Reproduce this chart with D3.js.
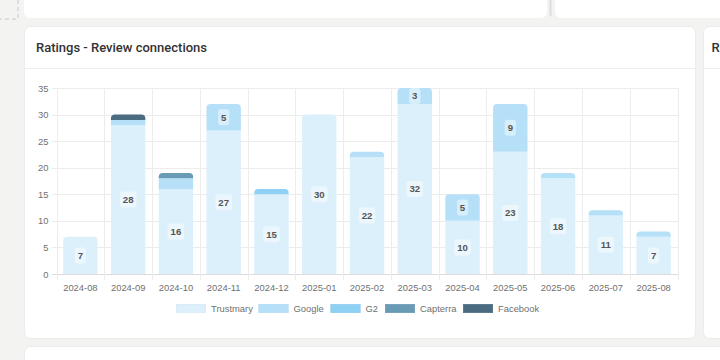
<!DOCTYPE html>
<html><head><meta charset="utf-8">
<script src="https://cdn.jsdelivr.net/npm/d3@7"></script>
<style>
html,body{margin:0;padding:0;background:#f3f3f2;width:720px;height:360px;overflow:hidden;font-family:"Liberation Sans",Arial,sans-serif;}
</style></head>
<body>
<svg id="c" width="720" height="360"></svg>
<script>
const categories = ["2024-08","2024-09","2024-10","2024-11","2024-12","2025-01","2025-02","2025-03","2025-04","2025-05","2025-06","2025-07","2025-08"];
const seriesNames = ["Trustmary","Google","G2","Capterra","Facebook"];
const trustmary = [7,28,16,27,15,30,22,32,10,23,18,11,7];
const google    = [0,1,2,5,0,0,1,3,5,9,1,1,1];
const g2        = [0,0,0,0,1,0,0,0,0,0,0,0,0];
const capterra  = [0,0,1,0,0,0,0,0,0,0,0,0,0];
const facebook  = [0,1,0,0,0,0,0,0,0,0,0,0,0];
const yTicks = [0,5,10,15,20,25,30,35];
const colors = ["#dcf0fb","#b6e0f8","#8fd1f5","#6a9bb6","#4a6b80"];

const seriesValues = [trustmary, google, g2, capterra, facebook];
const data = categories.map((c,i)=>{const o={cat:c}; seriesNames.forEach((s,j)=>o[s]=seriesValues[j][i]); return o;});
const FS = 9.4;

const svg = d3.select("#c");
// background cards
svg.append("rect").attr("x",24).attr("y",-10).attr("width",523).attr("height",28).attr("rx",6).attr("fill","#fff");
svg.append("rect").attr("x",555).attr("y",-10).attr("width",180).attr("height",28).attr("rx",6).attr("fill","#fff");
svg.append("line").attr("x1",550.5).attr("x2",550.5).attr("y1",0).attr("y2",16).attr("stroke","#ddd").attr("stroke-width",2);
svg.append("path").attr("d","M18,0 V19 H0").attr("fill","none").attr("stroke","#ddd").attr("stroke-width",2).attr("stroke-dasharray","4,3");
svg.append("rect").attr("x",24.5).attr("y",26.5).attr("width",671).attr("height",312).attr("rx",6).attr("fill","#fff").attr("stroke","#ececec");
svg.append("rect").attr("x",703.5).attr("y",26.5).attr("width",40).attr("height",312).attr("rx",6).attr("fill","#fff").attr("stroke","#ececec");
svg.append("rect").attr("x",24.5).attr("y",346.5).attr("width",720).attr("height",30).attr("rx",6).attr("fill","#fff").attr("stroke","#ececec");
svg.append("line").attr("x1",25).attr("x2",695).attr("y1",68.5).attr("y2",68.5).attr("stroke","#efefef");
svg.append("line").attr("x1",704).attr("x2",720).attr("y1",68.5).attr("y2",68.5).attr("stroke","#efefef");
svg.append("text").attr("x",36).attr("y",52).text("Ratings - Review connections")
  .attr("font-family","Roboto, sans-serif").attr("font-weight",500).attr("font-size",13).attr("fill","#333");
svg.append("text").attr("x",711.5).attr("y",52).text("R")
  .attr("font-family","Roboto, sans-serif").attr("font-weight",500).attr("font-size",13).attr("fill","#333");

const x = d3.scaleBand().domain(categories).range([56.5,677.5]).paddingInner(0.28).paddingOuter(0.14);
const xg = d3.scaleBand().domain(categories).range([56.5,677.5]);
const y = d3.scaleLinear().domain([0,35]).range([274,88]);

const g = svg.append("g");
// horizontal grid
g.selectAll(".hg").data(yTicks).join("line").attr("x1",52).attr("x2",678)
 .attr("y1",d=>Math.round(y(d))+0.5).attr("y2",d=>Math.round(y(d))+0.5).attr("stroke",d=>d===0?"#dcdcdc":"#ececec");
// vertical grid
const vb = categories.map(c=>xg(c)).concat([677.5]);
g.selectAll(".vg").data(vb).join("line").attr("x1",d=>Math.round(d)+0.5).attr("x2",d=>Math.round(d)+0.5)
 .attr("y1",88).attr("y2",280).attr("stroke","#ececec");
// y axis labels
const yAxis = d3.axisLeft(y).tickValues(yTicks).tickSize(0).tickPadding(0);
const ya = svg.append("g").attr("transform","translate(48.5,0)").call(yAxis);
ya.select(".domain").remove();
ya.selectAll("text").attr("font-size",FS).attr("fill","#707070").attr("font-family","Liberation Sans, Arial, sans-serif");
// x axis labels
const xAxis = d3.axisBottom(xg).tickSize(0).tickPadding(0);
const xa = svg.append("g").attr("transform","translate(0,284)").call(xAxis);
xa.select(".domain").remove();
xa.selectAll("text").attr("font-size",FS).attr("fill","#707070").attr("font-family","Liberation Sans, Arial, sans-serif");

const stack = d3.stack().keys(seriesNames)(data);
const r = 4;
const topIdx = data.map(d=>{let t=-1; seriesNames.forEach((s,j)=>{if(d[s]>0)t=j;}); return t;});
function segPath(x0,w,y0,y1,round){
  if(!round) return `M${x0},${y0}V${y1}H${x0+w}V${y0}Z`;
  return `M${x0},${y0}V${y1+r}Q${x0},${y1} ${x0+r},${y1}H${x0+w-r}Q${x0+w},${y1} ${x0+w},${y1+r}V${y0}Z`;
}
stack.forEach((layer,j)=>{
  svg.append("g").selectAll("path").data(layer.filter(d=>d[1]>d[0])).join("path")
   .attr("fill",colors[j])
   .attr("d",d=>{const i=categories.indexOf(d.data.cat);return segPath(x(d.data.cat),x.bandwidth(),y(d[0]),y(d[1]),topIdx[i]===j);});
});
// labels
stack.forEach((layer,j)=>{
  layer.forEach(d=>{
    const v=d[1]-d[0]; if(v<3) return;
    const cx=x(d.data.cat)+x.bandwidth()/2, cy=(y(d[0])+y(d[1]))/2;
    const t=String(v); const w=t.length*5.3+6;
    svg.append("rect").attr("x",cx-w/2).attr("y",cy-8).attr("width",w).attr("height",16).attr("rx",3).attr("fill","rgba(255,255,255,0.45)");
    svg.append("text").attr("x",cx).attr("y",cy+3.4).attr("text-anchor","middle").attr("font-size",FS+0.2).attr("font-weight","bold").attr("fill","#555").text(t);
  });
});
// legend
const legX=[176,258.5,330.5,385,463];
const lg=svg.append("g");
seriesNames.forEach((s,j)=>{
  lg.append("rect").attr("x",legX[j]+0.25).attr("y",304.25).attr("width",29.5).attr("height",8.5).attr("fill",colors[j]).attr("stroke",d3.color(colors[j]).darker(0.12)).attr("stroke-width",0.5);
  lg.append("text").attr("x",legX[j]+35).attr("y",312).attr("font-size",FS).attr("fill","#707070").text(s);
});
</script>
</body></html>
